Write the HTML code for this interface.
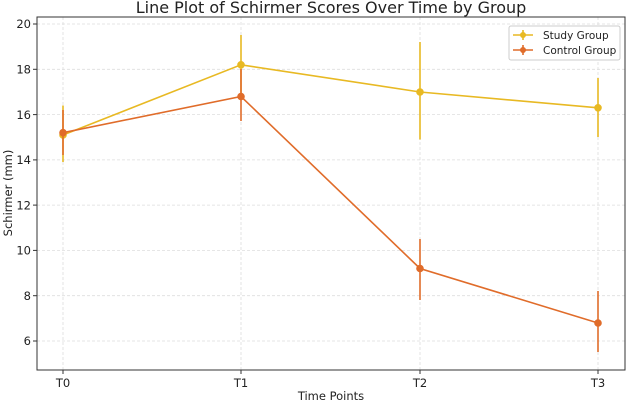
<!DOCTYPE html>
<html><head><style>body{margin:0;background:#fff}svg{display:block;font-family:"DejaVu Sans","Liberation Sans",sans-serif}</style></head>
<body>
<svg width="627" height="401" viewBox="0 0 627 401">
<rect width="627" height="401" fill="#fff"/>
<text x="331" y="13" font-size="16" text-anchor="middle" fill="#222">Line Plot of Schirmer Scores Over Time by Group</text>
<g stroke="#ddd" stroke-width="0.8" stroke-dasharray="3,2">
<line x1="63" y1="17" x2="63" y2="370"/><line x1="241" y1="17" x2="241" y2="370"/><line x1="420" y1="17" x2="420" y2="370"/><line x1="598" y1="17" x2="598" y2="370"/>
<line x1="37" y1="24" x2="625" y2="24"/><line x1="37" y1="69.3" x2="625" y2="69.3"/><line x1="37" y1="114.6" x2="625" y2="114.6"/><line x1="37" y1="159.9" x2="625" y2="159.9"/><line x1="37" y1="205.1" x2="625" y2="205.1"/><line x1="37" y1="250.4" x2="625" y2="250.4"/><line x1="37" y1="295.7" x2="625" y2="295.7"/><line x1="37" y1="341" x2="625" y2="341"/>
</g>
<rect x="37" y="17" width="588" height="353" fill="none" stroke="#333" stroke-width="1"/>
<g stroke="#333"><line x1="63" y1="370" x2="63" y2="374"/><line x1="241" y1="370" x2="241" y2="374"/><line x1="420" y1="370" x2="420" y2="374"/><line x1="598" y1="370" x2="598" y2="374"/>
<line x1="33" y1="24" x2="37" y2="24"/><line x1="33" y1="69.3" x2="37" y2="69.3"/><line x1="33" y1="114.6" x2="37" y2="114.6"/><line x1="33" y1="159.9" x2="37" y2="159.9"/><line x1="33" y1="205.1" x2="37" y2="205.1"/><line x1="33" y1="250.4" x2="37" y2="250.4"/><line x1="33" y1="295.7" x2="37" y2="295.7"/><line x1="33" y1="341" x2="37" y2="341"/></g>
<g font-size="11.5" fill="#222" text-anchor="end">
<text x="31" y="28">20</text><text x="31" y="73.5">18</text><text x="31" y="118.8">16</text><text x="31" y="164">14</text><text x="31" y="209.3">12</text><text x="31" y="254.6">10</text><text x="31" y="300">8</text><text x="31" y="345">6</text></g>
<g font-size="11.5" fill="#222" text-anchor="middle">
<text x="63" y="387">T0</text><text x="241" y="387">T1</text><text x="420" y="387">T2</text><text x="598" y="387">T3</text>
<text x="331" y="400">Time Points</text>
<text transform="translate(12,193) rotate(-90)">Schirmer (mm)</text></g>
<g stroke="#e8b923" stroke-width="1.6" fill="#e8b923">
<line x1="63" y1="162" x2="63" y2="105.5"/><line x1="241" y1="94" x2="241" y2="35"/><line x1="420" y1="139.5" x2="420" y2="42"/><line x1="598" y1="137" x2="598" y2="78"/>
<polyline points="63,135 241,64.8 420,92 598,107.8" fill="none"/>
<circle cx="63" cy="135" r="3"/><circle cx="241" cy="64.8" r="3"/><circle cx="420" cy="92" r="3"/><circle cx="598" cy="107.8" r="3"/></g>
<g stroke="#e06c2a" stroke-width="1.6" fill="#e06c2a">
<line x1="63" y1="155" x2="63" y2="110"/><line x1="241" y1="121" x2="241" y2="69"/><line x1="420" y1="300" x2="420" y2="239"/><line x1="598" y1="352" x2="598" y2="291"/>
<polyline points="63,132.7 241,96.5 420,268.5 598,323" fill="none"/>
<circle cx="63" cy="132.7" r="3"/><circle cx="241" cy="96.5" r="3"/><circle cx="420" cy="268.5" r="3"/><circle cx="598" cy="323" r="3"/></g>
<rect x="509" y="26" width="111" height="34" rx="2" fill="#fff" stroke="#ccc"/>
<g stroke-width="1.6"><line x1="513" y1="35" x2="533" y2="35" stroke="#e8b923"/><line x1="523" y1="30" x2="523" y2="40" stroke="#e8b923"/><circle cx="523" cy="35" r="3" fill="#e8b923"/>
<line x1="513" y1="50" x2="533" y2="50" stroke="#e06c2a"/><line x1="523" y1="45" x2="523" y2="55" stroke="#e06c2a"/><circle cx="523" cy="50" r="3" fill="#e06c2a"/></g>
<text x="543" y="39" font-size="10.5" fill="#222">Study Group</text>
<text x="543" y="54" font-size="10.5" fill="#222">Control Group</text>
</svg>
</body></html>
